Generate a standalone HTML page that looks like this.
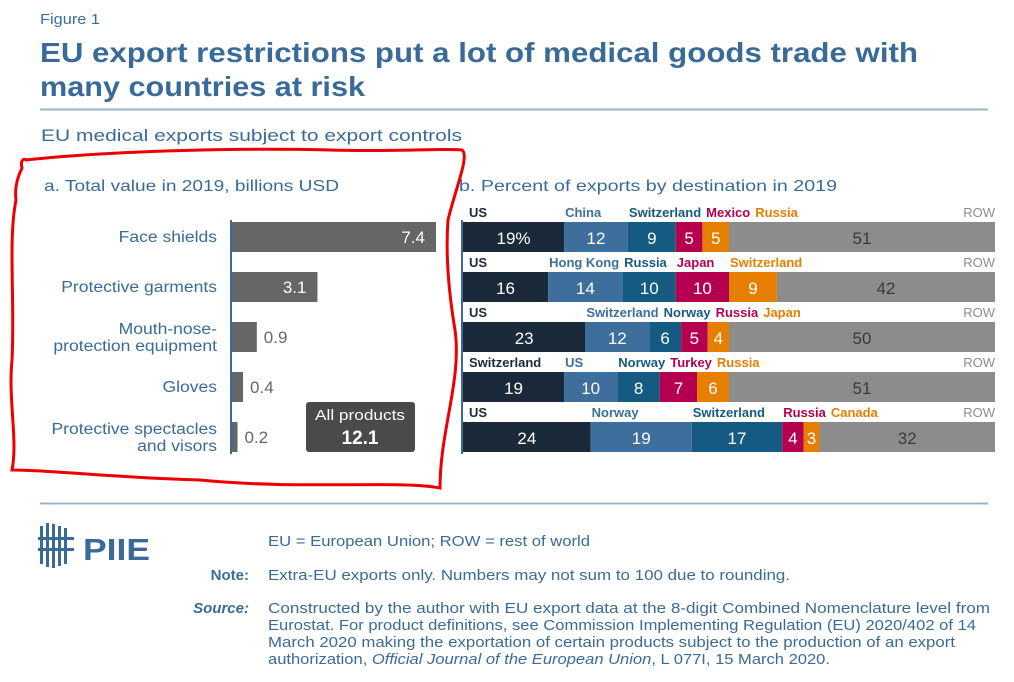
<!DOCTYPE html>
<html><head><meta charset="utf-8"><style>
body{margin:0;background:#fff;width:1014px;height:682px;overflow:hidden;font-family:"Liberation Sans",sans-serif}
svg{display:block}
</style></head><body>
<svg id="chart" width="1014" height="682" viewBox="0 0 1014 682" xmlns="http://www.w3.org/2000/svg" font-family="Liberation Sans, sans-serif">
<text x="40" y="24" font-size="15" fill="#3d6e9c" textLength="60" lengthAdjust="spacingAndGlyphs">Figure 1</text>
<text x="40" y="62" font-size="28" font-weight="bold" fill="#3a6b98" textLength="878" lengthAdjust="spacingAndGlyphs">EU export restrictions put a lot of medical goods trade with</text>
<text x="40" y="96" font-size="28" font-weight="bold" fill="#3a6b98" textLength="325" lengthAdjust="spacingAndGlyphs">many countries at risk</text>
<line x1="40" y1="109.5" x2="988" y2="109.5" stroke="#9fb3c6" stroke-width="2"/>
<text x="41" y="141" font-size="17" fill="#3a6b98" textLength="421" lengthAdjust="spacingAndGlyphs">EU medical exports subject to export controls</text>
<text x="44" y="191" font-size="16" fill="#3a6b98" textLength="295" lengthAdjust="spacingAndGlyphs">a. Total value in 2019, billions USD</text>
<text x="459" y="191" font-size="16" fill="#3a6b98" textLength="378" lengthAdjust="spacingAndGlyphs">b. Percent of exports by destination in 2019</text>
<g id="panelA"></g>
<g id="panelB"></g>
<rect x="306" y="402" width="109" height="50" rx="3" fill="#4a4a4a"/>
<text x="360" y="420" font-size="15" fill="#fff" text-anchor="middle" textLength="90" lengthAdjust="spacingAndGlyphs">All products</text>
<text x="360" y="444" font-size="19" font-weight="bold" fill="#fff" text-anchor="middle">12.1</text>
<path d="M22,168 C20,160 24,158 26,160 C120,150 250,148 330,150 C400,152 440,148 462,150 C470,155 455,190 448,220 C445,260 450,300 455,330 C462,380 440,430 440,488 C400,480 300,490 200,480 C120,478 50,470 12,470 C18,440 8,400 12,360 C15,300 8,240 16,200 C14,185 20,172 22,168 Z" fill="none" stroke="#ee0000" stroke-width="3"/>
<line x1="40" y1="503.5" x2="988" y2="503.5" stroke="#9fb3c6" stroke-width="2"/>
<g fill="#3a6b98">
<rect x="40" y="526" width="3" height="38"/><rect x="46" y="523" width="3" height="44"/><rect x="52" y="524" width="3" height="44"/><rect x="58" y="526" width="3" height="40"/><rect x="64" y="528" width="3" height="36"/>
<rect x="38" y="537" width="36" height="3"/><rect x="38" y="548" width="36" height="3"/>
<text x="83" y="560" font-size="31" font-weight="bold" textLength="67" lengthAdjust="spacingAndGlyphs">PIIE</text>
</g>
<g font-size="15" fill="#3a6b98">
<text x="268" y="546" textLength="322" lengthAdjust="spacingAndGlyphs">EU = European Union; ROW = rest of world</text>
<text x="249" y="580" text-anchor="end" font-weight="bold">Note:</text>
<text x="268" y="580" textLength="522" lengthAdjust="spacingAndGlyphs">Extra-EU exports only. Numbers may not sum to 100 due to rounding.</text>
<text x="249" y="613" text-anchor="end" font-weight="bold" font-style="italic">Source:</text>
<text x="268" y="613" textLength="722" lengthAdjust="spacingAndGlyphs">Constructed by the author with EU export data at the 8-digit Combined Nomenclature level from</text>
<text x="268" y="630" textLength="708" lengthAdjust="spacingAndGlyphs">Eurostat. For product definitions, see Commission Implementing Regulation (EU) 2020/402 of 14</text>
<text x="268" y="647" textLength="687" lengthAdjust="spacingAndGlyphs">March 2020 making the exportation of certain products subject to the production of an export</text>
<text x="268" y="664" textLength="562" lengthAdjust="spacingAndGlyphs">authorization, <tspan font-style="italic">Official Journal of the European Union</tspan>, L 077I, 15 March 2020.</text>
</g>
</svg>
<script>
const products = ["Face shields","Protective garments","Mouth-nose-|protection equipment","Gloves","Protective spectacles|and visors"];
const values = [7.4,3.1,0.9,0.4,0.2];
const rowCountries = [
 ["US","China","Switzerland","Mexico","Russia","ROW"],
 ["US","Hong Kong","Russia","Japan","Switzerland","ROW"],
 ["US","Switzerland","Norway","Russia","Japan","ROW"],
 ["Switzerland","US","Norway","Turkey","Russia","ROW"],
 ["US","Norway","Switzerland","Russia","Canada","ROW"]
];
const rowShares = [
 [19,12,9,5,5,51],
 [16,14,10,10,9,42],
 [23,12,6,5,4,50],
 [19,10,8,7,6,51],
 [24,19,17,4,3,32]
];
const NS="http://www.w3.org/2000/svg";
function mk(tag,attrs,parent,txt){const e=document.createElementNS(NS,tag);for(const k in attrs)e.setAttribute(k,attrs[k]);if(txt!==undefined)e.textContent=txt;parent.appendChild(e);return e;}
const wscale=1.2;
// Panel A
const A=document.getElementById('panelA');
const ax0=231, axScale=v=>v*(204/7.4);
const rowY=i=>222+i*50;
const axisA=mk('line',{x1:231,y1:220,x2:231,y2:454,stroke:'#3a6b98','stroke-width':2},A);


values.forEach((v,i)=>{
 const y=rowY(i), w=axScale(v);
 const r=mk('rect',{x:ax0+1,y:y,width:w,height:30,fill:'#666666'},A);
 
 
 const inside=w>60;
 const t=mk('text',{x:inside?ax0+w-10:ax0+w+8,y:y+21,'font-size':17,fill:inside?'#fff':'#666','text-anchor':inside?'end':'start'},A,v.toFixed(1));
 
 
 const lines=products[i].split('|');
 lines.forEach((ln,j)=>{
  const ly=y+20+(lines.length>1?(j===0?-8:9):0);
  const lt=mk('text',{x:217,y:ly,'font-size':15.5,fill:'#3a6b98','text-anchor':'end'},A,ln);
  
  
  const L=lt.getComputedTextLength()*1.13;
  lt.setAttribute('textLength',L);
  lt.setAttribute('lengthAdjust','spacingAndGlyphs');
 });
});
// Panel B
const B=document.getElementById('panelB');
const bx0=463, bScale=p=>p*5.32;
const fills=['#1b2a3a','#3d6e9c','#155a80','#b5004f','#e67e00','#8c8c8c'];
const labelCols=['#1b2a3a','#3d6e9c','#155a80','#b5004f','#e67e00','#8c8c8c'];
const valCols=['#fff','#fff','#fff','#fff','#fff','#3a3a3a'];
const axisB=mk('line',{x1:462,y1:220,x2:462,y2:454,stroke:'#3a6b98','stroke-width':2},B);


rowShares.forEach((row,i)=>{
 const y=rowY(i); let x=bx0; let labelEnd=0;
 row.forEach((p,j)=>{
  let w=bScale(p); if(j===row.length-1) w=995-x;
  const r=mk('rect',{x:x,y:y,width:w,height:30,fill:fills[j]},B);
  
  
  const vt=mk('text',{x:x+w/2,y:y+22,'font-size':17,fill:valCols[j],'text-anchor':'middle'},B,(i===0&&j===0)?p+'%':String(p));
  
  
  const last=j===row.length-1;
  let lx=last?995:(j===0?469:Math.max(x+1,labelEnd+5));
  const lt=mk('text',{x:lx,y:y-5,'font-size':13,'font-weight':last?'normal':'bold',fill:labelCols[j],'text-anchor':last?'end':'start'},B,rowCountries[i][j]);
  
  
  if(!last) labelEnd=lx+lt.getComputedTextLength();
  x+=w;
 });
});
</script>
</body></html>
